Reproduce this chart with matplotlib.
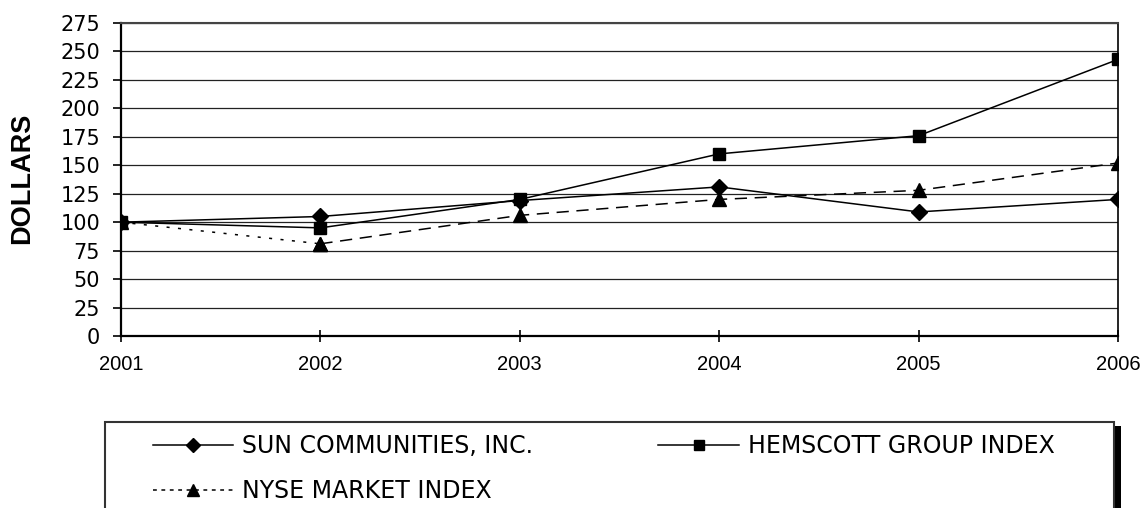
import matplotlib
matplotlib.use("Agg")
import matplotlib.pyplot as plt
from matplotlib.lines import Line2D
from matplotlib.patches import Rectangle

# --- datos ---
years = [2001, 2002, 2003, 2004, 2005, 2006]
sun = [100, 105, 119, 131, 109, 120]
hem = [100, 95, 120, 160, 176, 243]
nyse = [100, 81, 106, 120, 128, 152]
yticks = list(range(0, 276, 25))

W, H = 1143, 508
fig = plt.figure(figsize=(W / 100, H / 100), dpi=100)
ax = fig.add_axes([121 / W, 1 - 336 / H, (1118 - 121) / W, (336 - 23) / H])

lw = 1.1
# NYSE: primer tramo punteado, resto a trazos
ax.plot(years[:2], nyse[:2], color="black", lw=lw, linestyle=(0, (2.0, 5.5)),
        marker="^", ms=10, zorder=3)
ax.plot(years[1:], nyse[1:], color="black", lw=lw, linestyle=(0, (8.0, 5.0)),
        marker="^", ms=10, zorder=3)
ax.plot(years, sun, color="black", lw=lw, marker="D", ms=8, zorder=4)
ax.plot(years, hem, color="black", lw=lw, marker="s", ms=8, zorder=5)

ax.set_xlim(2001, 2006)
ax.set_ylim(0, 275)
ax.set_xticks(years)
ax.set_yticks(yticks)
ax.yaxis.grid(True, color="#222222", lw=0.9)
ax.set_axisbelow(True)

for lab in ax.get_xticklabels():
    lab.set_fontfamily("Liberation Sans")
    lab.set_fontsize(14.5)
for lab in ax.get_yticklabels():
    lab.set_fontfamily("DejaVu Sans")
    lab.set_fontsize(15)

ax.tick_params(axis="x", direction="inout", length=9, width=1.2, pad=9)
ax.tick_params(axis="y", direction="out", length=6, width=1.2, pad=9)
ax.spines["left"].set_linewidth(1.6)
ax.spines["bottom"].set_linewidth(1.6)
ax.spines["right"].set_linewidth(1.2)
ax.spines["top"].set_linewidth(1.5)
ax.spines["top"].set_color("#444444")

fig.text(22 / W, 1 - 178 / H, "DOLLARS", rotation=90, ha="center", va="center",
         fontsize=19.5, fontweight="bold", family="Liberation Sans")

# --- caja de leyenda con sombra ---
fig.add_artist(Rectangle((112 / W, -0.1), (1121 - 112) / W, 0.1 + (H - 426) / H,
                         transform=fig.transFigure, facecolor="black",
                         edgecolor="none", zorder=1))
fig.add_artist(Rectangle((105 / W, -0.1), (1114 - 105) / W, 0.1 + (H - 422) / H,
                         transform=fig.transFigure, facecolor="white",
                         edgecolor="#333333", lw=1.5, zorder=2))

h_sun = Line2D([], [], color="black", lw=lw, marker="D", ms=7)
h_nyse = Line2D([], [], color="black", lw=lw, linestyle=(0, (2.5, 3.0)), marker="^", ms=8)
h_hem = Line2D([], [], color="black", lw=lw, marker="s", ms=7)
leg = fig.legend([h_sun, h_nyse, h_hem],
                 ["SUN COMMUNITIES, INC.", "NYSE MARKET INDEX", "HEMSCOTT GROUP INDEX"],
                 ncol=2, loc="upper left", bbox_to_anchor=(153 / W, 1 - 434 / H),
                 frameon=False, borderpad=0, borderaxespad=0,
                 handlelength=3.4, handletextpad=0.38, columnspacing=5.3,
                 labelspacing=0.88, prop={"family": "DejaVu Sans", "size": 17})
leg.set_zorder(3)

fig.savefig("out.png", dpi=100)
